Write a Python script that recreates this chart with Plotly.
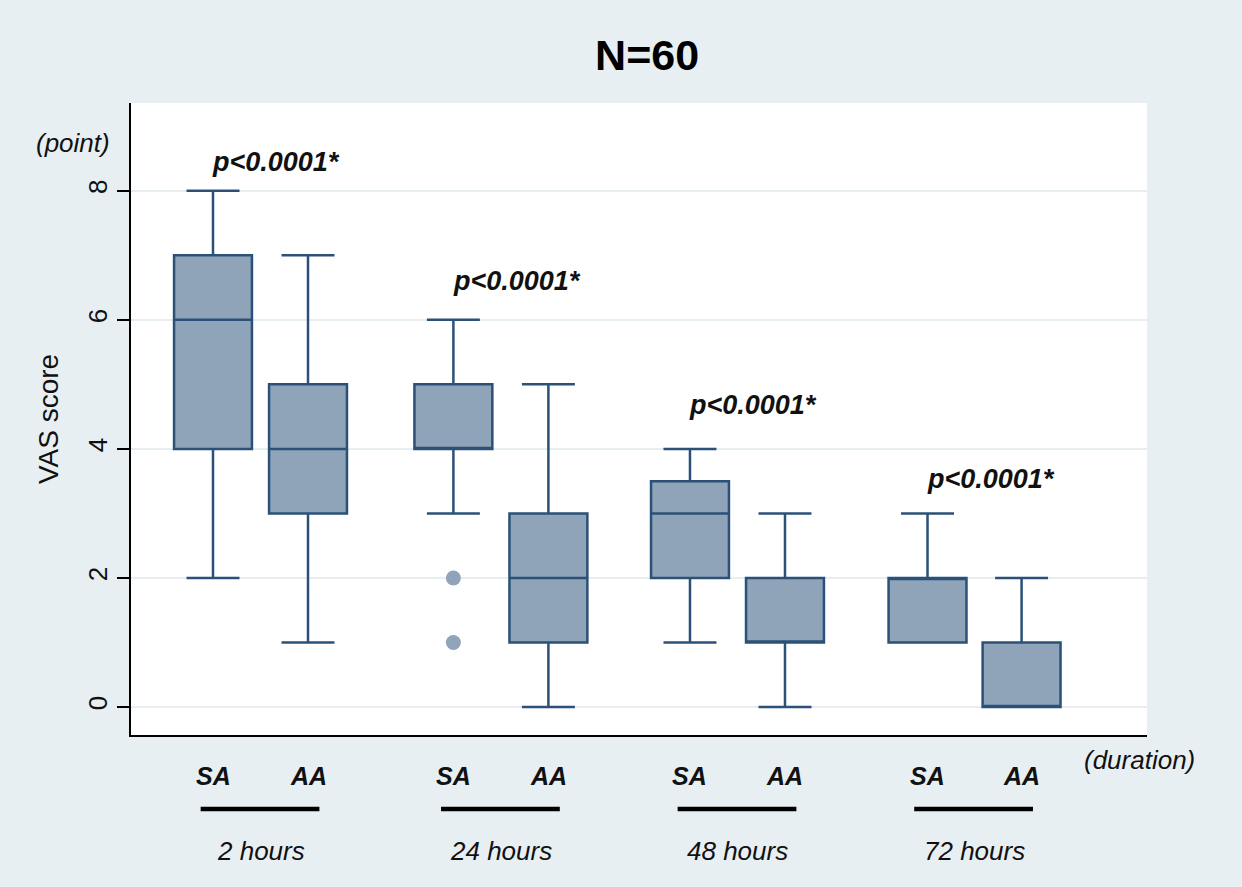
import plotly.graph_objects as go

# ---- data ----
groups = ["2 hours", "24 hours", "48 hours", "72 hours"]
box_pos = [1.0, 2.0, 3.53, 4.53, 6.02, 7.02, 8.52, 9.51]
box_arm = ["SA", "AA", "SA", "AA", "SA", "AA", "SA", "AA"]
lower = [2, 1, 3, 0, 1, 0, 1, 0]
q1 = [4, 3, 4, 1, 2, 1, 1, 0]
median = [6, 4, 4, 2, 3, 1, 2, 0]
q3 = [7, 5, 5, 3, 3.5, 2, 2, 1]
upper = [8, 7, 6, 5, 4, 3, 3, 2]
outlier_x = [3.53, 3.53]
outlier_y = [2, 1]
group_center = [1.5, 4.03, 6.52, 9.01]
p_text = ["p<0.0001*", "p<0.0001*", "p<0.0001*", "p<0.0001*"]
p_y = [8.45, 6.6, 4.68, 3.53]
y_ticks = [0, 2, 4, 6, 8]

XMIN, XMAX = 0.137, 10.83
YMIN, YMAX = -0.434, 9.36

FILL = "#8fa4b9"
LINE = "#2b5178"
TXT = "#111111"
ARIAL = "Liberation Sans, Arial, sans-serif"
NARROW = "Liberation Sans Narrow, Arial Narrow, Liberation Sans, sans-serif"

fig = go.Figure()
fig.add_trace(go.Box(
    x=box_pos, q1=q1, median=median, q3=q3,
    lowerfence=lower, upperfence=upper,
    width=0.82, whiskerwidth=0.68,
    fillcolor=FILL, line=dict(color=LINE, width=2.5),
    boxpoints=False, showlegend=False, hoverinfo="skip",
))
fig.add_trace(go.Scatter(
    x=outlier_x, y=outlier_y, mode="markers",
    marker=dict(size=15, color=FILL), showlegend=False, hoverinfo="skip",
))

def xpaper(v):
    return (v - XMIN) / (XMAX - XMIN)

annotations = []
for t, yy, sx in zip(p_text, p_y, box_pos[0::2]):
    annotations.append(dict(x=sx - 0.03, y=yy, xref="x", yref="y", text="<b><i>%s</i></b>" % t,
                            showarrow=False, xanchor="left", yanchor="middle",
                            font=dict(family=ARIAL, size=27, color=TXT)))
for bx, a in zip(box_pos, box_arm):
    annotations.append(dict(x=bx, y=-0.0649, xref="x", yref="paper", text="<b><i>%s</i></b>" % a,
                            showarrow=False, xanchor="center", yanchor="middle",
                            font=dict(family=ARIAL, size=25, color=TXT)))
for cx, g in zip(group_center, groups):
    annotations.append(dict(x=cx, y=-0.1835, xref="x", yref="paper", text="<i>%s</i>" % g,
                            showarrow=False, xanchor="center", yanchor="middle",
                            font=dict(family=ARIAL, size=26, color=TXT)))
annotations.append(dict(x=-0.057, y=0.937, xref="paper", yref="paper", text="<i>(point)</i>",
                        showarrow=False, xanchor="center", yanchor="middle",
                        font=dict(family=ARIAL, size=26, color=TXT)))
annotations.append(dict(x=0.993, y=-0.0396, xref="paper", yref="paper", text="<i>(duration)</i>",
                        showarrow=False, xanchor="center", yanchor="middle",
                        font=dict(family=ARIAL, size=26, color=TXT)))

shapes = []
for cx in group_center:
    shapes.append(dict(type="line", xref="paper", yref="paper",
                       x0=xpaper(cx - 0.63), x1=xpaper(cx + 0.62), y0=-0.117, y1=-0.117,
                       line=dict(color="#000000", width=4.5)))

fig.update_layout(
    width=1242, height=887,
    margin=dict(l=131, r=95, t=103, b=152),
    paper_bgcolor="#e8eff2", plot_bgcolor="#ffffff",
    title=dict(text="<b>N=60</b>", x=0.521, xanchor="center", y=1 - 55 / 887, yanchor="middle",
               yref="container", font=dict(family=ARIAL, size=43, color="#000000")),
    xaxis=dict(range=[XMIN, XMAX], showticklabels=False, ticks="", showgrid=False, zeroline=False,
               showline=True, linecolor="#000000", linewidth=2),
    yaxis=dict(range=[YMIN, YMAX], tickvals=y_ticks, ticks="outside", ticklen=12, tickwidth=1.5,
               tickcolor="#000000", tickangle=-90, showline=True, linecolor="#000000", linewidth=2,
               showgrid=True, gridcolor="#e6eef1", gridwidth=2, zeroline=False,
               tickfont=dict(family=NARROW, size=26, color=TXT),
               title=dict(text="VAS score", font=dict(family=NARROW, size=28, color=TXT), standoff=16)),
    annotations=annotations, shapes=shapes,
)

fig.write_html("out.html", config={"displayModeBar": False},
               post_script="document.body.style.margin='0px';document.body.style.background='#e8eff2';")
